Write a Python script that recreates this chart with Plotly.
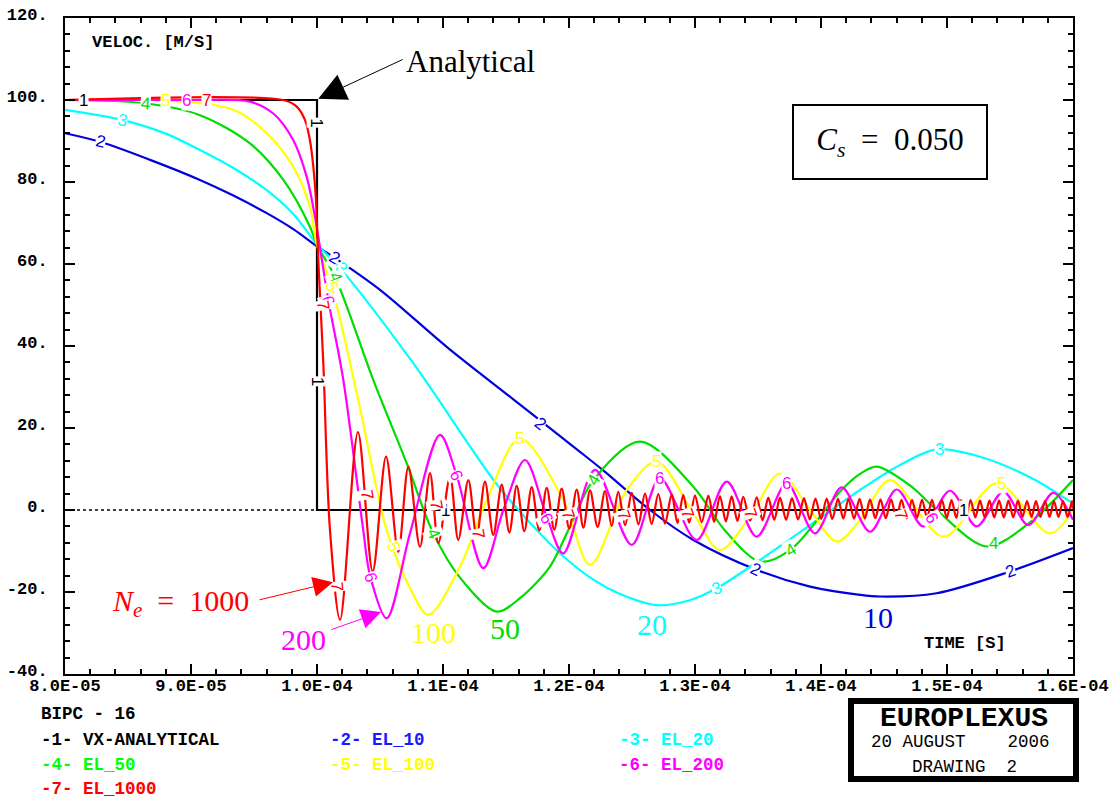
import plotly.graph_objects as go

# ---------------- data (time in microseconds, velocity in m/s) ----------------
t_analytical = [80.0, 100.0, 100.0, 160.0]
v_analytical = [100.0, 100.0, 0.0, 0.0]

t_zero = [80.0, 100.0]
v_zero = [0.0, 0.0]

t_el10 = [80.0, 82.78, 86.75, 90.71, 93.36, 96.01, 98.12, 100.0, 101.27, 105.0, 110.29, 115.58, 119.29,
          120.87, 122.86, 126.43, 129.87, 134.90, 139.13, 143.10, 144.68, 149.18, 155.0, 160.0]
v_el10 = [91.9, 89.8, 85.4, 80.5, 76.7, 72.4, 68.5, 64.3, 61.8, 53.7, 39.8, 27.0, 18.0,
          14.2, 9.3, 0.0, -7.3, -14.6, -18.7, -20.7, -21.1, -20.3, -15.0, -9.3]

t_el20 = [80.0, 84.60, 88.0, 90.71, 93.36, 96.01, 98.12, 100.0, 101.83, 107.64, 114.26, 117.44, 119.29,
          121.93, 124.05, 126.96, 129.60, 131.72, 135.16, 139.92, 143.10, 146.27, 149.18, 152.62,
          156.59, 160.0]
v_el20 = [97.6, 95.1, 91.8, 87.8, 83.4, 78.0, 72.2, 64.8, 59.0, 35.8, 6.3, -4.9, -10.6,
          -17.0, -20.5, -23.2, -22.0, -19.1, -12.2, -2.0, 4.9, 11.0, 14.8, 13.0,
          8.0, 1.6]

t_el50 = [80.0, 86.35, 90.71, 94.68, 97.33, 99.44, 100.0, 101.43, 104.47, 107.12, 109.23, 111.35,
          114.26, 116.11, 118.49, 120.08, 121.93, 125.63, 129.87, 132.38, 135.16, 137.54, 140.71,
          141.51, 143.10, 144.42, 147.06, 149.18, 153.15, 156.59, 160.0]
v_el50 = [100.0, 99.2, 96.3, 89.4, 80.5, 69.1, 64.6, 56.9, 31.7, 11.4, -5.7, -16.5,
          -24.8, -21.5, -13.8, -4.0, 7.3, 16.7, 5.7, -5.0, -12.6, -9.8, 1.5,
          4.5, 8.8, 10.6, 6.0, 0.0, -8.9, -3.0, 7.3]

t_el100 = [80.0, 87.94, 93.36, 96.01, 98.12, 99.44, 100.0, 101.17, 103.28, 105.53, 107.38, 108.83,
           111.35, 113.47, 116.11, 119.55, 121.67, 124.58, 126.96, 129.87, 131.98, 134.37, 136.75,
           139.13, 141.25, 143.10, 145.48, 149.71, 153.95, 158.17, 160.0]
v_el100 = [100.0, 99.9, 97.6, 91.9, 83.7, 74.0, 64.6, 54.5, 26.8, -4.9, -19.0, -25.6,
           -13.8, 2.4, 17.5, 2.4, -13.4, 4.9, 11.8, -0.8, -9.8, -1.6, 8.9,
           0.0, -7.7, -2.5, 7.3, -6.5, 6.5, -5.7, 0.0]

t_el200 = [80.0, 89.66, 94.68, 96.53, 98.12, 99.18, 99.84, 100.90, 102.09, 103.67, 104.21, 105.53,
           107.38, 109.76, 111.08, 113.20, 114.79, 116.51, 118.23, 119.55, 122.06, 124.98, 127.22,
           130.13, 132.52, 134.90, 137.28, 139.52, 141.64, 143.89, 146.01, 148.12, 150.24, 152.36,
           154.47, 156.45, 158.44, 160.0]
v_el200 = [100.0, 100.0, 99.6, 96.7, 90.2, 81.3, 71.5, 51.2, 31.7, -4.9, -16.0, -26.4,
           -5.7, 18.3, 8.5, -14.2, 0.0, 12.2, -1.6, -10.6, 9.8, -8.5, 7.7,
           -7.3, 6.9, -6.5, 6.5, -5.7, 5.5, -5.3, 5.0, -4.0, 4.7, -4.0,
           4.5, -3.7, 4.2, -2.4]

# EL_1000: front, then oscillation peaks and troughs
t_el1000_front = [80.0, 97.30, 98.39, 99.05, 99.44, 99.71, 99.92, 100.02, 100.10, 100.50, 101.03]
v_el1000_front = [100.0, 100.0, 98.4, 95.1, 90.2, 83.7, 75.6, 67.5, 61.0, 35.8, -4.9]

t_el1000_peaks = [103.25, 105.48, 107.25, 108.97, 110.56, 112.01, 113.33, 114.66, 115.85, 117.04,
                  118.23, 119.42, 120.61, 121.67, 122.86, 123.91, 124.98, 126.03, 127.09, 128.15,
                  129.07, 130.00, 131.06, 131.98, 132.91, 133.83, 134.90, 135.82, 136.75, 137.70,
                  138.65, 139.56, 140.45, 141.35, 142.18, 143.06, 143.89, 144.72, 145.56, 146.39,
                  147.22, 148.02, 148.81, 149.60, 150.36, 151.11, 151.87, 152.62, 153.37, 154.13,
                  154.88, 155.63, 156.35, 157.06, 157.78, 158.49, 159.21, 159.92]
v_el1000_peaks = [19.0, 13.0, 10.6, 9.0, 8.1, 7.3, 6.9, 6.2, 5.9, 5.6,
                  5.4, 5.2, 5.0, 4.8, 4.6, 4.4, 4.2, 4.0, 3.9, 3.8,
                  3.7, 3.6, 3.5, 3.4, 3.3, 3.2, 3.1, 3.0, 3.0, 2.9,
                  2.9, 2.8, 2.8, 2.7, 2.7, 2.7, 2.6, 2.6, 2.6, 2.5,
                  2.5, 2.5, 2.5, 2.4, 2.4, 2.4, 2.4, 2.3, 2.3, 2.3,
                  2.3, 2.3, 2.2, 2.2, 2.2, 2.2, 2.2, 2.2]
t_el1000_troughs = [101.83, 104.42, 106.45, 108.17, 109.63, 111.21, 112.67, 113.99, 115.26, 116.45,
                    117.64, 118.83, 120.02, 121.14, 122.27, 123.39, 124.45, 125.51, 126.56, 127.62,
                    128.61, 129.54, 130.53, 131.52, 132.45, 133.37, 134.37, 135.36, 136.29, 137.23,
                    138.18, 139.11, 140.01, 140.90, 141.77, 142.62, 143.48, 144.31, 145.14, 145.98,
                    146.81, 147.62, 148.42, 149.21, 149.98, 150.74, 151.49, 152.25, 153.00, 153.75,
                    154.51, 155.26, 155.99, 156.71, 157.42, 158.14, 158.85, 159.57]
v_el1000_troughs = [-26.8, -15.0, -10.2, -9.0, -8.1, -7.3, -6.5, -6.1, -5.5, -5.2,
                    -5.0, -4.8, -4.5, -4.3, -4.1, -3.9, -3.7, -3.5, -3.4, -3.3,
                    -3.2, -3.1, -3.0, -2.9, -2.8, -2.7, -2.6, -2.5, -2.4, -2.4,
                    -2.3, -2.3, -2.2, -2.2, -2.1, -2.1, -2.1, -2.0, -2.0, -2.0,
                    -2.0, -1.9, -1.9, -1.9, -1.9, -1.9, -1.8, -1.8, -1.8, -1.8,
                    -1.8, -1.8, -1.7, -1.7, -1.7, -1.7, -1.7, -1.7]
t_el1000_end = [160.0]
v_el1000_end = [0.3]

x_tickvals = [80, 90, 100, 110, 120, 130, 140, 150, 160]
x_ticktext = ["8.0E-05", "9.0E-05", "1.0E-04", "1.1E-04", "1.2E-04", "1.3E-04", "1.4E-04", "1.5E-04", "1.6E-04"]
y_tickvals = [-40, -20, 0, 20, 40, 60, 80, 100, 120]
y_ticktext = ["-40.", "-20.", "0.", "20.", "40.", "60.", "80.", "100.", "120."]

# curve number labels: (text, series index, time, value, angle)
curve_labels = [
    ("1", 0, 81.43, 100.0, 0), ("1", 0, 100.0, 94.6, 90), ("1", 0, 100.0, 31.5, 90),
    ("1", 0, 110.16, 0.0, 0), ("1", 0, 151.3, 0.0, 0),
    ("2", 1, 82.78, 89.8, 14), ("2", 1, 101.35, 61.6, 30), ("2", 1, 117.7, 21.2, 38),
    ("2", 1, 134.8, -14.4, 25), ("2", 1, 155.0, -15.0, -20),
    ("3", 2, 84.6, 95.1, 10), ("3", 2, 101.97, 59.0, 45), ("3", 2, 131.72, -19.1, -20),
    ("3", 2, 149.44, 14.8, 0),
    ("4", 3, 86.35, 99.2, 5), ("4", 3, 101.43, 56.9, 65), ("4", 3, 109.23, -5.7, 65),
    ("4", 3, 121.93, 7.3, -60), ("4", 3, 137.54, -9.8, -30), ("4", 3, 153.68, -8.1, 0),
    ("5", 4, 87.94, 100.0, 0), ("5", 4, 101.17, 54.5, 70), ("5", 4, 106.06, -8.9, 70),
    ("5", 4, 116.11, 17.5, 0), ("5", 4, 126.96, 11.8, 0), ("5", 4, 154.3, 6.5, 0),
    ("6", 5, 89.66, 100.0, 0), ("6", 5, 100.9, 51.2, 75), ("6", 5, 104.21, -16.3, 75),
    ("6", 5, 111.08, 8.5, 65), ("6", 5, 118.2, -2.0, 60), ("6", 5, 127.22, 7.7, 0),
    ("6", 5, 137.28, 6.5, 0), ("6", 5, 148.8, -2.0, 60),
    ("7", 6, 91.24, 100.0, 0), ("7", 6, 100.5, 50.0, 80), ("7", 6, 101.56, -18.7, 85),
    ("7", 6, 103.94, 3.7, 80), ("7", 6, 109.5, 1.2, 80), ("7", 6, 112.8, -5.7, 80),
    ("7", 6, 119.9, -1.2, 70), ("7", 6, 124.3, -1.2, 70), ("7", 6, 129.4, -0.8, 70),
    ("7", 6, 134.4, -0.8, 70), ("7", 6, 146.3, -1.2, 70),
]

colors = ["#000000", "#0000dd", "#00ffff", "#00dd00", "#ffff00", "#ff00ff", "#ff0000"]
legend_colors = ["#000000", "#1a1aff", "#00ffff", "#00ff00", "#ffff00", "#ff00ff", "#ff0000"]
legend_names = ["VX-ANALYTICAL", "EL_10", "EL_20", "EL_50", "EL_100", "EL_200", "EL_1000"]

# ---------------- build EL_1000 series by merging read points ----------------
osc = sorted(zip(t_el1000_peaks + t_el1000_troughs, v_el1000_peaks + v_el1000_troughs))
t_el1000 = t_el1000_front + [p[0] for p in osc] + t_el1000_end
v_el1000 = v_el1000_front + [p[1] for p in osc] + v_el1000_end

MONO = "Liberation Mono"
SERIF = "Liberation Serif"

fig = go.Figure()
fig.add_trace(go.Scatter(x=t_zero, y=v_zero, mode="lines",
                         line=dict(color="black", width=1.5, dash="dot"), hoverinfo="skip"))
fig.add_trace(go.Scatter(x=t_analytical, y=v_analytical, mode="lines",
                         line=dict(color=colors[0], width=2.2)))
series = [(t_el10, v_el10), (t_el20, v_el20), (t_el50, v_el50), (t_el100, v_el100),
          (t_el200, v_el200), (t_el1000, v_el1000)]
for i, (tx, vy) in enumerate(series):
    fig.add_trace(go.Scatter(x=tx, y=vy, mode="lines",
                             line=dict(color=colors[i + 1], width=2.2, shape="spline", smoothing=0.9)))

annotations = []
for txt, idx, tx, vy, ang in curve_labels:
    annotations.append(dict(x=tx, y=vy, xref="x", yref="y", text=txt, showarrow=False,
                            textangle=ang, bgcolor="white", borderpad=0,
                            font=dict(family="Liberation Sans", size=17, color=colors[idx])))


def px_x(px):
    return (px - 65) / 1008.0


def px_y(py):
    return (674 - py) / 656.0


def ptext(x, y, text, font, xanchor="center", **kw):
    d = dict(x=px_x(x), y=px_y(y), xref="paper", yref="paper", xanchor=xanchor, yanchor="middle",
             text=text, showarrow=False, font=font)
    d.update(kw)
    return d


# text labels in the plot
annotations += [
    ptext(90, 43, "VELOC. [M/S]", dict(family=MONO, size=17, color="black", weight="bold"), xanchor="left"),
    ptext(965, 643, "TIME [S]", dict(family=MONO, size=17, color="black", weight="bold")),
    dict(x=112.22, y=109.3, xref="x", yref="y", text="Analytical", showarrow=False,
         font=dict(family=SERIF, size=31, color="black")),
    dict(x=100.1, y=100.3, xref="x", yref="y", text="", showarrow=True, axref="pixel", ayref="pixel",
         ax=86, ay=-40, arrowhead=2, arrowsize=5.5, arrowwidth=1, arrowcolor="black"),
    dict(x=89.13, y=-22.7, xref="x", yref="y", text="<i>N<sub>e</sub></i>\u00a0 =\u00a0 1000",
         showarrow=False, font=dict(family=SERIF, size=30, color="#ff0000")),
    dict(x=101.27, y=-17.6, xref="x", yref="y", text="", showarrow=True,
         ax=-75, ay=18, arrowhead=2, arrowsize=4, arrowwidth=1, arrowcolor="#ff0000"),
    dict(x=98.89, y=-31.7, xref="x", yref="y", text="200", showarrow=False,
         font=dict(family=SERIF, size=30, color="#ff00ff")),
    dict(x=105.08, y=-24.9, xref="x", yref="y", text="", showarrow=True,
         ax=-51, ay=18, arrowhead=2, arrowsize=4, arrowwidth=1, arrowcolor="#ff00ff"),
    dict(x=109.21, y=-29.8, xref="x", yref="y", text="100", showarrow=False,
         font=dict(family=SERIF, size=30, color="#ffff00")),
    dict(x=114.92, y=-28.8, xref="x", yref="y", text="50", showarrow=False,
         font=dict(family=SERIF, size=30, color="#00dd00")),
    dict(x=126.59, y=-28.0, xref="x", yref="y", text="20", showarrow=False,
         font=dict(family=SERIF, size=30, color="#00ffff")),
    dict(x=144.52, y=-26.1, xref="x", yref="y", text="10", showarrow=False,
         font=dict(family=SERIF, size=30, color="#0000dd")),
    ptext(889.5, 142, "<i>C<sub>s</sub></i>\u00a0 =\u00a0 0.050", dict(family=SERIF, size=31, color="black"),
          width=192, height=72, bordercolor="black", borderwidth=2, borderpad=0, bgcolor="white"),
]

# bottom legend text
legend_pos = [(39, 740), (328, 740), (617, 740), (39, 765), (328, 765), (617, 765), (39, 789)]
annotations.append(ptext(39, 714, "BIPC - 16", dict(family=MONO, size=17.5, color="black", weight="bold"),
                         xanchor="left"))
for i, (lx, ly) in enumerate(legend_pos):
    annotations.append(ptext(lx, ly, "-%d- %s" % (i + 1, legend_names[i]),
                             dict(family=MONO, size=17.5, color=legend_colors[i], weight="bold"),
                             xanchor="left"))

# EUROPLEXUS stamp
annotations += [
    ptext(963.5, 739.5, "\u00a0", dict(family=MONO, size=10, color="black"),
          width=219, height=72, bordercolor="black", borderwidth=6, borderpad=0, bgcolor="white"),
    ptext(963.5, 718.5, "EUROPLEXUS", dict(family=MONO, size=28, color="black", weight="bold")),
    ptext(960, 742, "20 AUGUST\u00a0\u00a0\u00a0\u00a02006", dict(family=MONO, size=17.5, color="black")),
    ptext(964.5, 767, "DRAWING\u00a0\u00a02", dict(family=MONO, size=17.5, color="black")),
]

axis_common = dict(showgrid=False, zeroline=False, showline=True, linewidth=2, linecolor="black",
                   mirror="allticks", ticks="inside", ticklen=10, tickwidth=1.5, tickcolor="black",
                   automargin=False)

fig.update_layout(
    width=1117, height=801,
    margin=dict(l=65, r=44, t=18, b=127, autoexpand=False),
    paper_bgcolor="white", plot_bgcolor="white",
    showlegend=False,
    xaxis=dict(range=[80, 160], tickmode="array", tickvals=x_tickvals, ticktext=x_ticktext,
               minor=dict(ticks="inside", ticklen=5, tickwidth=1.5, tickcolor="black", dtick=2, tick0=80),
               tickfont=dict(family=MONO, size=17, color="black", weight="bold"),
               ticklabelstandoff=-5, **axis_common),
    yaxis=dict(range=[-40, 120], tickmode="array", tickvals=y_tickvals, ticktext=y_ticktext,
               minor=dict(ticks="inside", ticklen=5, tickwidth=1.5, tickcolor="black", dtick=4, tick0=-40),
               tickfont=dict(family=MONO, size=17, color="black", weight="bold"),
               ticklabelstandoff=12, ticklabelshift=-4, **axis_common),
    annotations=annotations,
)

fig.write_html("out.html")
